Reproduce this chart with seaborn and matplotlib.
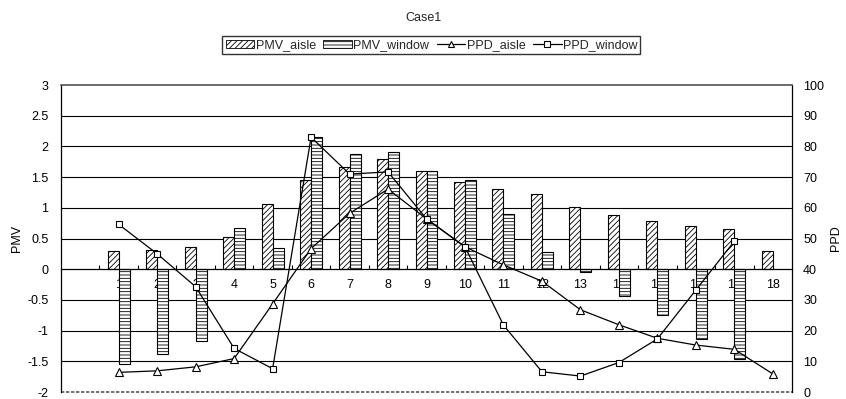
import numpy as np
import pandas as pd
import matplotlib
matplotlib.use("Agg")
import matplotlib.pyplot as plt
from matplotlib.patches import Patch
from matplotlib.lines import Line2D
from matplotlib.ticker import FuncFormatter
import seaborn as sns

sns.set_theme(style="white")
plt.rcParams["font.family"] = ["Liberation Sans", "DejaVu Sans"]
plt.rcParams["hatch.linewidth"] = 0.6
plt.rcParams["hatch.color"] = "black"

# Seat positions
categories = [str(i) for i in range(1, 19)]

# Predicted mean vote
pmv_aisle = [0.29, 0.32, 0.37, 0.53, 1.07, 1.45, 1.66, 1.79, 1.60, 1.42,
             1.31, 1.22, 1.02, 0.89, 0.78, 0.71, 0.66, 0.29]
pmv_window = [-1.55, -1.38, -1.17, 0.67, 0.35, 2.16, 1.87, 1.91, 1.60, 1.45,
              0.90, 0.28, -0.05, -0.43, -0.74, -1.14, -1.47, np.nan]

# Predicted percentage dissatisfied
ppd_aisle = [6.4, 6.9, 8.2, 10.9, 28.7, 46.7, 58.2, 66.1, 56.4, 47.3,
             41.4, 36.1, 26.8, 21.9, 17.5, 15.3, 13.9, 5.9]
ppd_window = [54.6, 45.0, 34.3, 14.2, 7.6, 83.0, 71.0, 71.7, 56.4, 47.3,
              21.8, 6.6, 5.2, 9.6, 17.3, 33.2, 49.1, np.nan]

series_names = ["PMV_aisle", "PMV_window"]
bars = pd.DataFrame({
    "case": categories * 2,
    "PMV": pmv_aisle + pmv_window,
    "series": [series_names[0]] * len(categories) + [series_names[1]] * len(categories),
})

fig = plt.figure(figsize=(8.46, 3.99), dpi=100)
ax = fig.add_axes([0.0721, 0.0175, 0.8641, 0.7694])

sns.barplot(data=bars, x="case", y="PMV", hue="series", order=categories,
            hue_order=series_names, palette=["white", "white"], saturation=1,
            edgecolor="black", linewidth=0.8, width=0.57, gap=0,
            errorbar=None, legend=False, ax=ax)

hatches = ["//////", "-----"]
for cont, h in zip(ax.containers, hatches):
    for p in cont:
        p.set_hatch(h)
        p.set_zorder(2)

ax.set_ylim(-2, 3)
ax.set_yticks(np.arange(-2, 3.01, 0.5))
ax.yaxis.set_major_formatter(FuncFormatter(lambda v, _: f"{v:g}"))

# horizontal rules at every interior tick
for v in ax.get_yticks():
    if -2 < v < 3 and v != 0:
        ax.axhline(v, color="black", lw=0.8, zorder=0)
ax.axhline(-2, color="0.35", lw=1.2, ls=(0, (2, 1)), zorder=0, clip_on=False)

ax.spines["bottom"].set_position(("data", 0))
ax.spines["bottom"].set_color("black")
ax.spines["bottom"].set_linewidth(0.9)
ax.spines["top"].set_color("0.35")
ax.spines["top"].set_linestyle((0, (2, 1)))
ax.spines["left"].set_color("black")
ax.spines["left"].set_linewidth(0.9)
ax.spines["right"].set_color("black")
ax.spines["right"].set_linewidth(0.9)

ax.set_xticks(np.arange(len(categories)))
ax.set_xticklabels(categories)
ax.set_xticks(np.arange(-0.5, len(categories) - 0.5, 1.0), minor=True)
ax.tick_params(axis="x", which="major", length=0, pad=7, labelsize=9, colors="black")
ax.tick_params(axis="x", which="minor", length=3, width=0.8, direction="in",
               color="black", bottom=True)
ax.tick_params(axis="y", length=0, pad=9, labelsize=9, colors="black")
ax.set_xlabel("")
ax.set_ylabel("PMV", fontsize=9, color="black", labelpad=3)

ax2 = ax.twinx()
xpos = np.arange(len(categories))
sns.lineplot(x=xpos, y=ppd_aisle, ax=ax2, color="black", lw=0.9, marker="^",
             markersize=5.5, markerfacecolor="white", markeredgecolor="black",
             markeredgewidth=0.8)
sns.lineplot(x=xpos, y=ppd_window, ax=ax2, color="black", lw=0.9, marker="s",
             markersize=5, markerfacecolor="white", markeredgecolor="black",
             markeredgewidth=0.8)
ax2.set_ylim(0, 100)
ax2.set_yticks(np.arange(0, 101, 10))
ax2.tick_params(axis="y", length=0, pad=8, labelsize=9, colors="black")
ax2.set_ylabel("PPD", fontsize=9, color="black", labelpad=4)
for s in ax2.spines.values():
    s.set_visible(False)
ax.set_xlim(-1.5, len(categories) - 0.5)

fig.text(0.5, 0.955, "Case1", ha="center", va="center", fontsize=9)

handles = [
    Patch(facecolor="white", edgecolor="black", hatch=hatches[0], lw=0.6, label="PMV_aisle"),
    Patch(facecolor="white", edgecolor="black", hatch=hatches[1], lw=0.6, label="PMV_window"),
    Line2D([], [], color="black", lw=0.9, marker="^", markersize=5,
           markerfacecolor="white", markeredgewidth=0.8, label="PPD_aisle"),
    Line2D([], [], color="black", lw=0.9, marker="s", markersize=4,
           markerfacecolor="white", markeredgewidth=0.8, label="PPD_window"),
]
leg = fig.legend(handles=handles, loc="center", bbox_to_anchor=(0.51, 0.887),
                 ncol=4, fontsize=9, frameon=True, fancybox=False,
                 edgecolor="black", handlelength=2.3, handleheight=0.6,
                 handletextpad=0.1, columnspacing=0.6, borderpad=0.25,
                 borderaxespad=0)
leg.get_frame().set_linewidth(1.0)

fig.savefig("out.png", dpi=100)
